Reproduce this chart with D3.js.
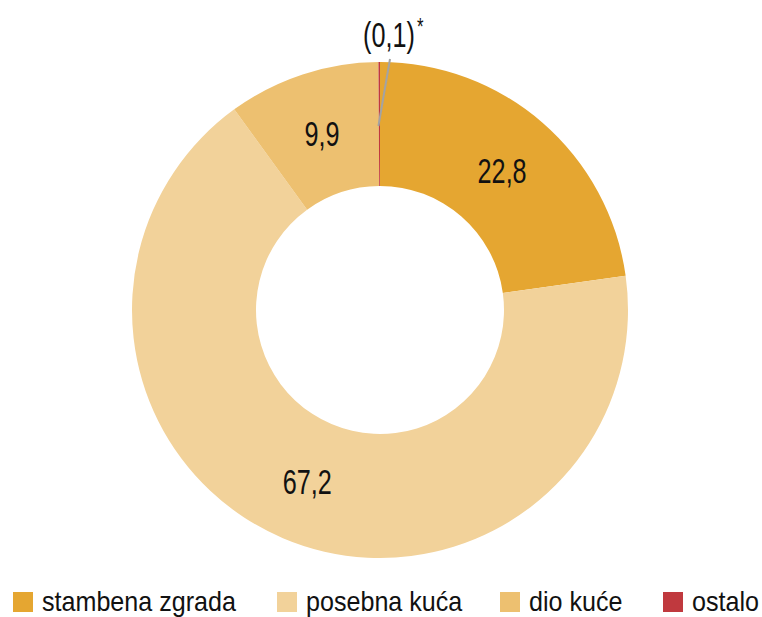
<!DOCTYPE html>
<html><head><meta charset="utf-8">
<script src="https://cdn.jsdelivr.net/npm/d3@7"></script>
<style>body{margin:0;background:#fff}svg{display:block}
text{font-family:'Liberation Sans', Arial, sans-serif}</style>
</head><body>
<svg id="c" width="762" height="617"></svg>
<script>
const categories = ["stambena zgrada", "posebna kuća", "dio kuće", "ostalo"];
const values = [22.8, 67.2, 9.9, 0.1];
const labels = ["22,8", "67,2", "9,9", "(0,1)"];
const colors = ["#E5A631", "#F2D29A", "#EDC070", "#C0393E"];

const svg = d3.select("#c");
const cx = 380, cy = 310, rOut = 248, rIn = 124;
const g = svg.append("g").attr("transform", `translate(${cx},${cy})`);
const pie = d3.pie().sort(null).value(d => d);
const arcs = pie(values);
const arc = d3.arc().innerRadius(rIn).outerRadius(rOut);

g.selectAll("path").data(arcs).join("path")
  .attr("d", arc).attr("fill", (d, i) => colors[i]);

const sx = 0.7;
arcs.forEach((d, i) => {
  if (i < 3) {
    const [x, y] = arc.centroid(d);
    g.append("text").attr("transform", `translate(${x},${y + 13}) scale(${sx},1)`)
      .attr("text-anchor", "middle")
      .attr("font-size", 36).attr("fill", "#111").text(labels[i]);
  }
});
const small = arcs[3];
const ma = (small.startAngle + small.endAngle) / 2;
const p0 = [Math.sin(ma) * (rIn + 60) - 1, -Math.cos(ma) * (rIn + 60)];
const p1 = [10, -(rOut + 3)];
g.append("line").attr("x1", p0[0]).attr("y1", p0[1]).attr("x2", p1[0]).attr("y2", p1[1])
  .attr("stroke", "#A3A3A3").attr("stroke-width", 2);
const lt = g.append("text").attr("transform", `translate(${-17},${-(rOut + 15)}) scale(${sx},1)`)
  .attr("text-anchor", "start")
  .attr("font-size", 36).attr("fill", "#111");
lt.append("tspan").text(labels[3]);
lt.append("tspan").attr("font-size", 24).attr("dx", 3).attr("dy", -12).text("*");

const legX = [13, 277, 500, 663];
const leg = svg.append("g");
categories.forEach((c, i) => {
  leg.append("rect").attr("x", legX[i]).attr("y", 592).attr("width", 20).attr("height", 20).attr("fill", colors[i]);
  leg.append("text").attr("transform", `translate(${legX[i] + 29},611) scale(0.93,1)`)
    .attr("font-size", 27).attr("fill", "#111").text(c);
});
</script>
</body></html>
